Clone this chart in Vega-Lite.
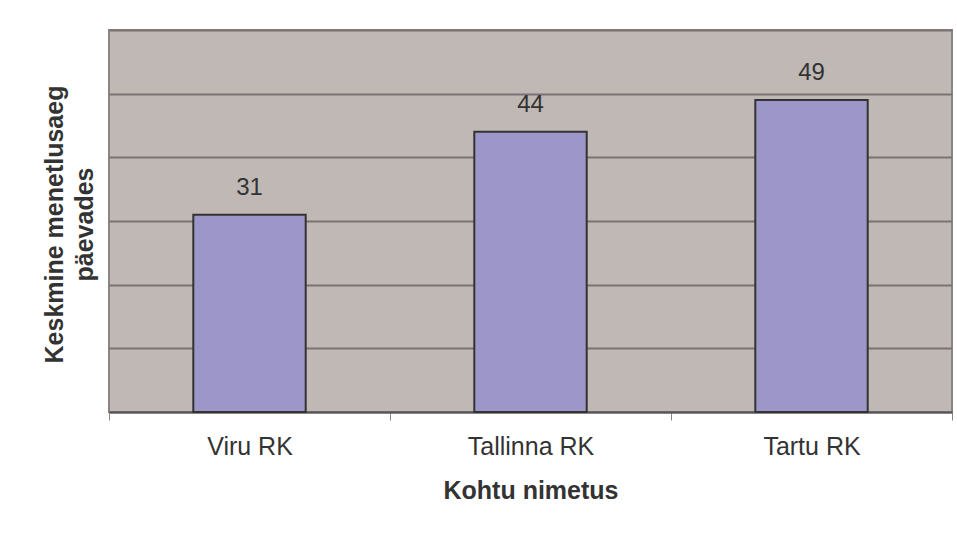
{
  "$schema": "https://vega.github.io/schema/vega-lite/v6.json",
  "width": 843,
  "height": 382,
  "autosize": {"type": "none"},
  "padding": {"left": 109, "top": 30, "right": 5, "bottom": 123},
  "background": "white",
  "config": {
    "font": "Liberation Sans",
    "view": {"fill": "#c0b8b5", "stroke": "#8c8484", "strokeWidth": 2}
  },
  "data": {
    "values": [
      {"kohus": "Viru RK", "paevad": 31},
      {"kohus": "Tallinna RK", "paevad": 44},
      {"kohus": "Tartu RK", "paevad": 49}
    ]
  },
  "encoding": {
    "x": {
      "field": "kohus",
      "type": "nominal",
      "sort": null,
      "scale": {"paddingInner": 0, "paddingOuter": 0},
      "axis": {
        "title": "Kohtu nimetus",
        "labelAngle": 0,
        "tickBand": "extent",
        "grid": false,
        "domainColor": "#555555",
        "domainWidth": 2,
        "tickColor": "#8c8484",
        "tickSize": 8,
        "tickWidth": 1,
        "labelFontSize": 25,
        "labelColor": "#333333",
        "labelPadding": 14,
        "titleFontSize": 25,
        "titleFontWeight": "bold",
        "titleColor": "#333333",
        "titleY": 86,
        "titleBaseline": "alphabetic"
      }
    },
    "y": {
      "field": "paevad",
      "type": "quantitative",
      "scale": {"domain": [0, 60]},
      "axis": {
        "title": ["Keskmine menetlusaeg", "päevades"],
        "labels": false,
        "ticks": false,
        "domain": false,
        "values": [0, 10, 20, 30, 40, 50, 60],
        "grid": true,
        "gridColor": "#7a7272",
        "gridWidth": 2,
        "titleFontSize": 25,
        "titleFontWeight": "bold",
        "titleColor": "#333333",
        "titleAngle": -90,
        "titleX": -67,
        "titleY": 194,
        "titleAlign": "center",
        "titleBaseline": "top",
        "titleLineHeight": 30
      }
    }
  },
  "layer": [
    {
      "mark": {"type": "bar", "width": {"band": 0.4}, "fill": "#9c96c9", "stroke": "#333333", "strokeWidth": 2}
    },
    {
      "mark": {"type": "text", "dy": -20, "baseline": "alphabetic", "fontSize": 24, "color": "#333333"},
      "encoding": {"text": {"field": "paevad", "type": "quantitative"}}
    }
  ]
}
